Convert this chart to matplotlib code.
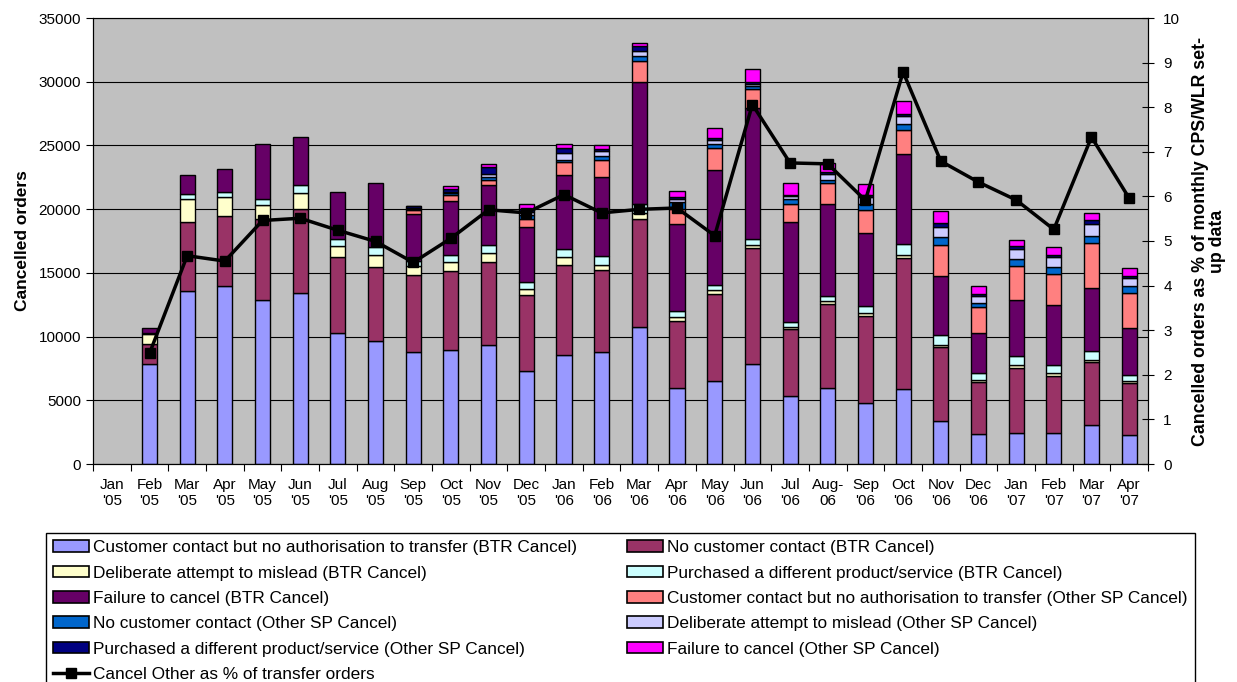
import numpy as np
import matplotlib
matplotlib.use('Agg')
import matplotlib.pyplot as plt
from matplotlib.patches import Patch
from matplotlib.lines import Line2D

plt.rcParams['font.family'] = ['Liberation Sans', 'DejaVu Sans']

# months on the x axis
months = ["Jan\n'05", "Feb\n'05", "Mar\n'05", "Apr\n'05", "May\n'05", "Jun\n'05", "Jul\n'05",
          "Aug\n'05", "Sep\n'05", "Oct\n'05", "Nov\n'05", "Dec\n'05", "Jan\n'06", "Feb\n'06",
          "Mar\n'06", "Apr\n'06", "May\n'06", "Jun\n'06", "Jul\n'06", "Aug-\n06", "Sep\n'06",
          "Oct\n'06", "Nov\n'06", "Dec\n'06", "Jan\n'07", "Feb\n'07", "Mar\n'07", "Apr\n'07"]

# cancelled orders by reason (stacked, bottom to top)
cc_btr = [0, 7880, 13600, 13950, 12900, 13450, 10250, 9620, 8810, 8940, 9340, 7260, 8570, 8810,
          10720, 5950, 6530, 7840, 5350, 5950, 4770, 5870, 3380, 2340, 2410, 2460, 3040, 2250]
nc_btr = [0, 1560, 5360, 5480, 6290, 6580, 5980, 5870, 6060, 6190, 6550, 6030, 7080, 6420,
          8470, 5240, 6790, 9120, 5240, 6610, 6870, 10280, 5770, 4060, 5160, 4460, 4930, 4100]
del_btr = [0, 780, 1820, 1520, 1100, 1230, 840, 950, 650, 710, 680, 450, 580, 400,
           500, 320, 370, 240, 190, 260, 210, 270, 210, 200, 220, 210, 210, 180]
pur_btr = [0, 80, 380, 420, 530, 610, 550, 570, 390, 580, 630, 520, 650, 730,
           730, 470, 390, 470, 390, 390, 580, 860, 760, 580, 700, 660, 650, 470]
fail_btr = [0, 350, 1540, 1750, 4320, 3800, 3720, 5070, 3730, 4190, 4670, 4330, 5770, 6160,
            9570, 6870, 8970, 10230, 7810, 7210, 5710, 7080, 4610, 3100, 4410, 4720, 4980, 3670]
cc_oth = [0, 0, 0, 0, 0, 0, 0, 0, 260, 470, 440, 650, 1050, 1360,
          1630, 1180, 1750, 1490, 1390, 1630, 1760, 1880, 2420, 2070, 2670, 2410, 3550, 2760]
nc_oth = [0, 0, 0, 0, 0, 0, 0, 0, 90, 150, 210, 270, 180, 270,
          390, 520, 340, 260, 400, 260, 520, 470, 650, 260, 530, 520, 570, 520]
del_oth = [0, 0, 0, 0, 0, 0, 0, 0, 80, 120, 260, 260, 500, 410,
           420, 210, 260, 160, 230, 470, 520, 580, 790, 550, 780, 790, 920, 650]
pur_oth = [0, 0, 0, 0, 0, 0, 0, 0, 150, 250, 520, 260, 390, 140,
           370, 190, 160, 180, 130, 130, 190, 210, 310, 180, 190, 210, 260, 190]
fail_oth = [0, 0, 0, 0, 0, 0, 0, 0, 50, 190, 270, 340, 320, 370,
            210, 470, 810, 1000, 920, 740, 870, 970, 920, 610, 520, 570, 580, 600]

# cancel other as % of transfer orders (right axis)
pct = [np.nan, 2.48, 4.67, 4.55, 5.46, 5.51, 5.24, 4.99, 4.52, 5.06, 5.70, 5.63, 6.04, 5.63,
       5.71, 5.74, 5.12, 8.06, 6.75, 6.73, 5.91, 8.79, 6.79, 6.32, 5.92, 5.26, 7.33, 5.96]

series = [
    ("Customer contact but no authorisation to transfer (BTR Cancel)", cc_btr, '#9999FF'),
    ("No customer contact (BTR Cancel)", nc_btr, '#993366'),
    ("Deliberate attempt to mislead (BTR Cancel)", del_btr, '#FFFFCC'),
    ("Purchased a different product/service (BTR Cancel)", pur_btr, '#CCFFFF'),
    ("Failure to cancel (BTR Cancel)", fail_btr, '#660066'),
    ("Customer contact but no authorisation to transfer (Other SP Cancel)", cc_oth, '#FF8080'),
    ("No customer contact (Other SP Cancel)", nc_oth, '#0066CC'),
    ("Deliberate attempt to mislead (Other SP Cancel)", del_oth, '#CCCCFF'),
    ("Purchased a different product/service (Other SP Cancel)", pur_oth, '#000080'),
    ("Failure to cancel (Other SP Cancel)", fail_oth, '#FF00FF'),
]
line_label = "Cancel Other as % of transfer orders"

W, H = 1237, 682
fig = plt.figure(figsize=(W / 100, H / 100), dpi=100)
ax = fig.add_axes([93 / W, 1 - 464 / H, (1148 - 93) / W, (464 - 18) / H])
ax.set_facecolor('#C0C0C0')

x = np.arange(len(months))
bottom = np.zeros(len(months))
for name, vals, col in series:
    vals = np.array(vals, dtype=float)
    m = vals > 0  # skip empty segments so no stray edges are drawn
    ax.bar(x[m], vals[m], 0.40, bottom=bottom[m], color=col, edgecolor='black',
           linewidth=1.0, zorder=2)
    bottom += vals

ax.set_xlim(-0.5, len(months) - 0.5)
ax.set_ylim(0, 35000)
ax.set_yticks(np.arange(0, 35001, 5000))
ax.yaxis.grid(True, color='black', linewidth=0.8)
ax.set_axisbelow(True)
ax.tick_params(axis='y', labelsize=11, direction='out', length=5)

# tick marks between categories, labels centred under bars
ax.set_xticks(np.arange(-0.5, len(months), 1.0))
ax.set_xticklabels([])
ax.set_xticks(x, minor=True)
ax.set_xticklabels(months, minor=True, fontsize=11)
ax.tick_params(axis='x', which='major', direction='out', length=5)
ax.tick_params(axis='x', which='minor', length=0, pad=10)
ax.set_ylabel('Cancelled orders', fontsize=12.5, fontweight='bold', labelpad=6)

for s in ['left', 'bottom', 'right']:
    ax.spines[s].set_color('black')
ax.spines['top'].set_color('#808080')

ax2 = ax.twinx()
ax2.plot(x, pct, color='black', linewidth=2.5, marker='s', markersize=7, zorder=5)
ax2.set_ylim(0, 10)
ax2.set_yticks(np.arange(0, 11, 1))
ax2.tick_params(axis='y', labelsize=11, direction='inout', length=8, pad=7)
ax2.set_ylabel('Cancelled orders as % of monthly CPS/WLR set-\nup data', fontsize=12.8,
               fontweight='bold', linespacing=1.0)
ax2.yaxis.set_label_coords((1192 - 93) / (1148 - 93), 0.5)

# legend laid out row by row like the original (two columns)
handles = [Patch(facecolor=col, edgecolor='black', linewidth=1.2) for _, _, col in series]
labels = [name for name, _, _ in series]
handles.append(Line2D([], [], color='black', linewidth=2.5, marker='s', markersize=7))
labels.append(line_label)
order = [0, 2, 4, 6, 8, 10, 1, 3, 5, 7, 9]
fig.legend([handles[i] for i in order], [labels[i] for i in order], ncol=2,
           loc='upper left', bbox_to_anchor=(46 / W, 1 - 533 / H, (1195 - 46) / W, 0.0),
           mode='expand', fontsize=12.4, frameon=True, fancybox=False, edgecolor='black',
           framealpha=1, borderpad=0.42, labelspacing=0.6, handlelength=2.1, handleheight=0.64,
           handletextpad=0.23, borderaxespad=0)

fig.savefig('out.png', dpi=100)
